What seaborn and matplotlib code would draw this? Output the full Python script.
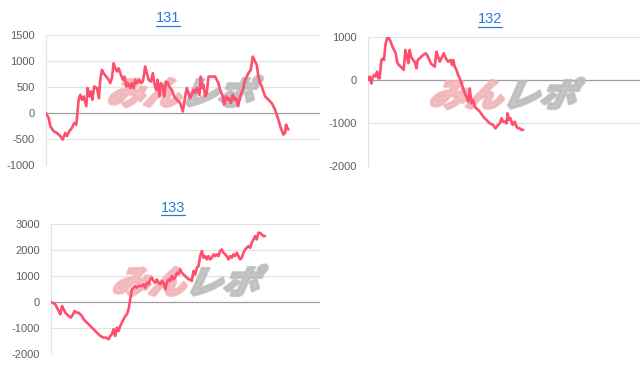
import numpy as np
import pandas as pd
import matplotlib
matplotlib.use("Agg")
import matplotlib.pyplot as plt
import seaborn as sns
from matplotlib.textpath import TextPath
from matplotlib.patches import PathPatch
from matplotlib.font_manager import FontProperties
from matplotlib.transforms import Affine2D, IdentityTransform
from matplotlib.lines import Line2D

# ---------------- data ----------------
titles = ["131", "132", "133"]

games_131 = [0, 80, 130, 230, 330, 430, 500, 580, 630, 700, 780, 850, 910, 980, 1030, 1080, 1130, 1210,
             1250, 1310, 1350, 1390, 1450, 1530, 1590, 1630, 1680, 1730, 1810, 1880, 1930, 1980, 2030,
             2080, 2130, 2180, 2250, 2310, 2360, 2410, 2460, 2530, 2580, 2630, 2680, 2730, 2800, 2850,
             2910, 2980, 3030, 3080, 3150, 3210, 3250, 3310, 3350, 3410, 3450, 3510, 3550, 3600, 3660,
             3700, 3780, 3850, 3930, 4030, 4110, 4180, 4230, 4280, 4330, 4380, 4430, 4480, 4530, 4610,
             4650, 4690, 4730, 4780, 4830, 4880, 4980, 5080, 5180, 5230, 5310, 5350, 5410, 5450, 5500,
             5550, 5610, 5660, 5710, 5770, 5830, 5910, 5980, 6030, 6080, 6150, 6210, 6280, 6330, 6380,
             6430, 6480, 6530, 6580, 6680, 6780, 6880, 6980, 7050, 7130, 7180, 7210, 7250, 7280]
diff_131 = [0, -95, -255, -350, -385, -445, -510, -385, -445, -350, -285, -190, -225, 255, 350, 255, 320, 130,
            480, 320, 415, 255, 510, 480, 285, 640, 830, 765, 700, 640, 575, 670, 955,
            860, 800, 860, 735, 640, 700, 510, 575, 480, 575, 480, 640, 575, 640, 575,
            605, 895, 765, 640, 605, 765, 575, 445, 640, 320, 575, 510, 320, 605, 575,
            510, 445, 320, 255, 190, 30, 320, 480, 385, 285, 350, 445, 385, 480, 350,
            700, 480, 545, 320, 385, 700, 700, 700, 575, 445, 320, 160, 320, 255, 285,
            190, 350, 255, 285, 130, 320, 445, 640, 700, 765, 830, 1085, 990, 925, 700,
            575, 510, 415, 320, 255, 190, 65, -130, -285, -415, -385, -225, -285, -320]

games_132 = [0, 50, 100, 130, 180, 230, 270, 310, 350, 400, 450, 480, 520, 580, 630, 680, 730, 780, 830,
             870, 920, 980, 1030, 1070, 1120, 1170, 1210, 1250, 1290, 1350, 1400, 1450, 1490, 1550, 1600,
             1650, 1730, 1770, 1820, 1880, 1930, 2000, 2050, 2100, 2150, 2200, 2270, 2330, 2400, 2470,
             2520, 2550, 2600, 2650, 2700, 2750, 2800, 2850, 2900, 2950, 3000, 3050, 3100, 3150, 3200,
             3250, 3350, 3450, 3550, 3650, 3750, 3820, 3900, 3950, 4000, 4050, 4120, 4150, 4180, 4230,
             4270, 4330, 4400, 4450, 4500, 4550, 4600, 4650]
diff_132 = [0, 80, -80, 40, 115, 80, 195, 40, 40, 465, 505, 465, 815, 990, 970, 890, 775, 700, 620,
            425, 350, 310, 270, 235, 700, 545, 390, 700, 545, 465, 425, 270, 465, 505, 545,
            580, 620, 580, 505, 390, 350, 310, 660, 545, 425, 505, 620, 505, 425, 465,
            350, 465, 310, 235, 115, 40, -80, -195, -310, -390, -505, -195, -545, -465, -620,
            -660, -735, -850, -930, -1010, -1045, -1125, -1045, -1010, -890, -970, -970, -1010, -775, -930,
            -890, -1045, -970, -1085, -1125, -1125, -1160, -1160]

games_133 = [0, 80, 130, 180, 230, 280, 330, 380, 430, 480, 530, 600, 660, 710, 760, 830, 880, 930, 980,
             1080, 1180, 1280, 1380, 1480, 1580, 1660, 1730, 1780, 1830, 1880, 1930, 1980, 2030, 2080,
             2130, 2180, 2230, 2280, 2330, 2380, 2430, 2480, 2530, 2580, 2630, 2680, 2730, 2780, 2830,
             2880, 2930, 2980, 3030, 3080, 3130, 3180, 3230, 3280, 3330, 3380, 3430, 3480, 3530, 3580,
             3630, 3680, 3730, 3780, 3830, 3880, 3930, 3980, 4030, 4080, 4130, 4180, 4230, 4280, 4330,
             4380, 4430, 4480, 4530, 4580, 4630, 4680, 4730, 4780, 4830, 4880, 4930, 4980, 5030, 5080,
             5130, 5180, 5230, 5280, 5330, 5380, 5430, 5480, 5530, 5580, 5630, 5680, 5730, 5780, 5830,
             5880, 5930, 5980, 6030, 6080, 6130, 6180, 6230, 6280, 6330, 6380, 6430]
diff_133 = [0, -50, -90, -220, -345, -475, -155, -280, -410, -475, -540, -600, -475, -345, -410, -410, -475, -540, -665,
            -795, -920, -1050, -1180, -1305, -1370, -1370, -1435, -1305, -1240, -1050, -1305, -985, -1115, -920,
            -795, -665, -540, -475, -280, 100, 485, 550, 615, 550, 615, 615, 615, 680, 550,
            740, 680, 870, 935, 805, 740, 870, 740, 680, 805, 740, 485, 740, 870, 805,
            1000, 870, 935, 1125, 1060, 1255, 1125, 1060, 1000, 935, 870, 870, 805, 1190, 1060,
            1320, 1380, 1765, 1960, 1700, 1765, 1640, 1765, 1640, 1700, 1830, 1765, 1830, 1765, 1960,
            2020, 1895, 1830, 1765, 1640, 1765, 1700, 1830, 1765, 1895, 1765, 1640, 1700, 1895, 2020,
            2085, 2150, 2085, 2280, 2405, 2535, 2405, 2660, 2660, 2600, 2535, 2535]

x_max = [8230, 8150, 8080]
y_lims = [(-1000, 1500), (-2000, 1000), (-2000, 3000)]
y_steps = [500, 1000, 1000]

# ---------------- style ----------------
sns.set_theme(style="white")
plt.rcParams["font.family"] = ["Liberation Sans", "DejaVu Sans"]

W, H = 640, 372
fig = plt.figure(figsize=(W / 100, H / 100), dpi=100)

def px_rect(l, t, r, b):
    return [l / W, 1 - b / H, (r - l) / W, (b - t) / H]

rects = [px_rect(46, 35, 320, 165), px_rect(368, 37, 640, 166), px_rect(51, 224, 320, 354)]
title_pos = [(168, 18), (490, 19), (173, 208)]

series = [(games_131, diff_131), (games_132, diff_132), (games_133, diff_133)]
LINE = "#ff4f6e"
fp_logo = FontProperties(family="Noto Sans CJK JP", weight="heavy")

def add_logo(ax):
    # watermark "みんレポ"
    tp1 = TextPath((0, 0), "みん", size=1, prop=fp_logo)
    e1 = tp1.get_extents()
    tp2 = TextPath((e1.x1 + 0.02, 0), "レポ", size=1, prop=fp_logo)
    e2 = tp2.get_extents()
    x0, y0 = e1.x0, min(e1.y0, e2.y0)
    x1, y1 = e2.x1, max(e1.y1, e2.y1)
    th, tw = 31.0, 158.0
    sy = th / (y1 - y0)
    skew = 0.45
    sx = (tw - skew * th) / (x1 - x0)
    bb = ax.get_window_extent()
    left = bb.x0 + 60
    bottom = bb.y1 - 72
    tr = (Affine2D().translate(-x0, -y0).scale(sx, sy)
          + Affine2D(np.array([[1, skew, 0], [0, 1, 0], [0, 0, 1]], dtype=float))
          + Affine2D().translate(left, bottom))
    for tp, col in [(tp1, "#f1b4b7"), (tp2, "#bcbcbc")]:
        ax.add_artist(PathPatch(tp, facecolor=col, edgecolor=col, linewidth=2.2,
                                joinstyle="round", alpha=0.85,
                                transform=tr + IdentityTransform(), zorder=1.5, clip_on=False))

axes = []
for i, (rect, (gx, gy)) in enumerate(zip(rects, series)):
    ax = fig.add_axes(rect)
    axes.append(ax)
    df = pd.DataFrame({"game": gx, "diff": gy})
    sns.lineplot(data=df, x="game", y="diff", ax=ax, color=LINE, linewidth=1.9,
                 zorder=3, estimator=None, sort=False)
    lo, hi = y_lims[i]
    ax.set_xlim(0, x_max[i])
    ax.set_ylim(lo, hi)
    ticks = np.arange(lo, hi + 1, y_steps[i])
    ax.set_yticks(ticks)
    ax.set_yticklabels([str(int(t)) for t in ticks])
    ax.set_xticks([])
    ax.set_xlabel("")
    ax.set_ylabel("")
    for t in ticks:
        ax.axhline(t, color="#9e9e9e" if t == 0 else "#e3e3e3", lw=0.9, zorder=1)
    for s in ["top", "right", "bottom"]:
        ax.spines[s].set_visible(False)
    ax.spines["left"].set_color("#e3e3e3")
    ax.spines["left"].set_linewidth(0.9)
    ax.tick_params(axis="y", length=0, pad=8, labelsize=8, labelcolor="#5f5f5f")
    ax.patch.set_alpha(0)

    tx, ty = title_pos[i]
    fig.text(tx / W, 1 - ty / H, titles[i], ha="center", va="center",
             fontsize=10.5, color="#2b7bd6")

fig.canvas.draw()
for ax in axes:
    add_logo(ax)

r = fig.canvas.get_renderer()
for t in fig.texts:
    bb = t.get_window_extent(r)
    fig.add_artist(Line2D([bb.x0 / W, bb.x1 / W], [(bb.y0 - 0.5) / H] * 2,
                          transform=fig.transFigure, color="#2b7bd6", lw=0.9))

fig.savefig("out.png", dpi=100, facecolor="white")
